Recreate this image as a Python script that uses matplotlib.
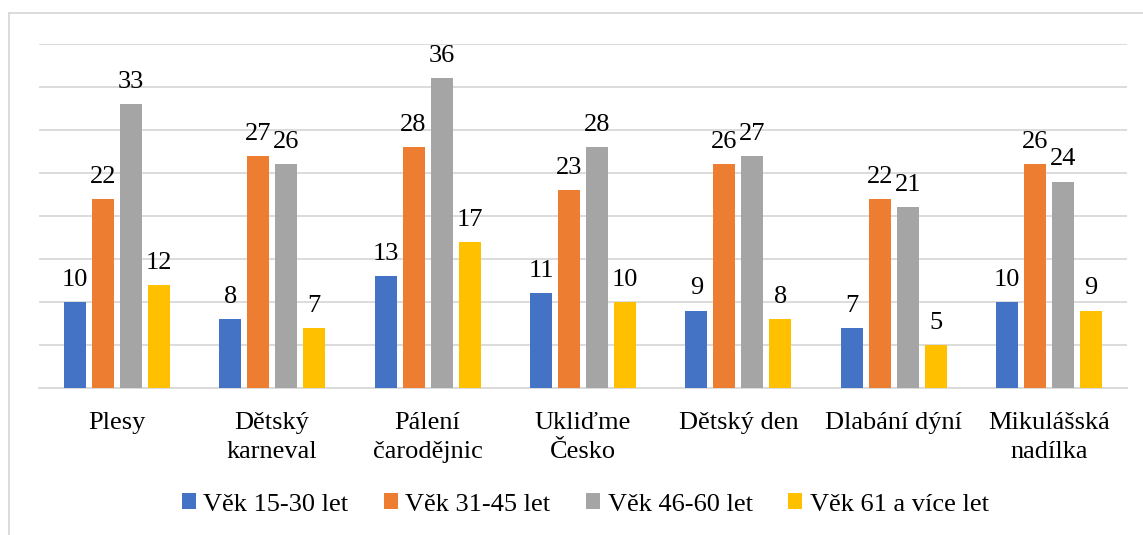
import matplotlib.pyplot as plt
from matplotlib.lines import Line2D
from matplotlib.text import Text
import numpy as np

plt.rcParams['font.family'] = 'Liberation Serif'

categories = ['Plesy', 'Dětský\nkarneval', 'Pálení\nčarodějnic', 'Ukliďme\nČesko',
              'Dětský den', 'Dlabání dýní', 'Mikulášská\nnadílka']
series_names = ['Věk 15-30 let', 'Věk 31-45 let', 'Věk 46-60 let', 'Věk 61 a více let']
age_15_30 = [10, 8, 13, 11, 9, 7, 10]
age_31_45 = [22, 27, 28, 23, 26, 22, 26]
age_46_60 = [33, 26, 36, 28, 27, 21, 24]
age_61_up = [12, 7, 17, 10, 8, 5, 9]
colors = ['#4472C4', '#ED7D31', '#A5A5A5', '#FFC000']

serif = 'Liberation Serif'
fs = 19

fig = plt.figure(figsize=(11.43, 5.35), dpi=100)
ax = fig.add_axes([0.0341, 0.2748, 0.9519, 0.643])

x = np.arange(len(categories))
width = 0.1416
step = 0.18
data = [age_15_30, age_31_45, age_46_60, age_61_up]
for i, (vals, name, c) in enumerate(zip(data, series_names, colors)):
    offs = (i - 1.5) * step
    bars = ax.bar(x + offs, vals, width, color=c, label=name, zorder=3)
    ax.bar_label(bars, padding=8, fontsize=fs)

ax.set_xlim(-0.5, len(categories) - 0.5)
ax.set_ylim(0, 40)
ax.set_yticks(range(0, 41, 5))
ax.yaxis.grid(True, color='#D9D9D9', linewidth=1.3, zorder=0)
ax.tick_params(axis='y', left=False, labelleft=False)
ax.tick_params(axis='x', length=0, pad=17)
ax.set_xticks(x)
ax.set_xticklabels(categories, linespacing=1.45, fontsize=fs)
for s in ['top', 'right', 'left']:
    ax.spines[s].set_visible(False)
ax.spines['bottom'].set_color('#D9D9D9')
ax.spines['bottom'].set_linewidth(1.3)

fig.legend(loc='center', bbox_to_anchor=(0.512, 0.057), ncol=4, frameon=False,
           fontsize=fs, handlelength=0.53, handleheight=0.53,
           handletextpad=0.28, columnspacing=1.35)

# outer frame (top and left edges visible)
fig.add_artist(Line2D([9 / 1143, 1], [1 - 13 / 535, 1 - 13 / 535],
                      transform=fig.transFigure, color='#D9D9D9', linewidth=1.3))
fig.add_artist(Line2D([9 / 1143, 9 / 1143], [0, 1 - 13 / 535],
                      transform=fig.transFigure, color='#D9D9D9', linewidth=1.3))

for t in fig.findobj(Text):
    t.set_fontfamily(serif)

fig.savefig('out.png', dpi=100)
